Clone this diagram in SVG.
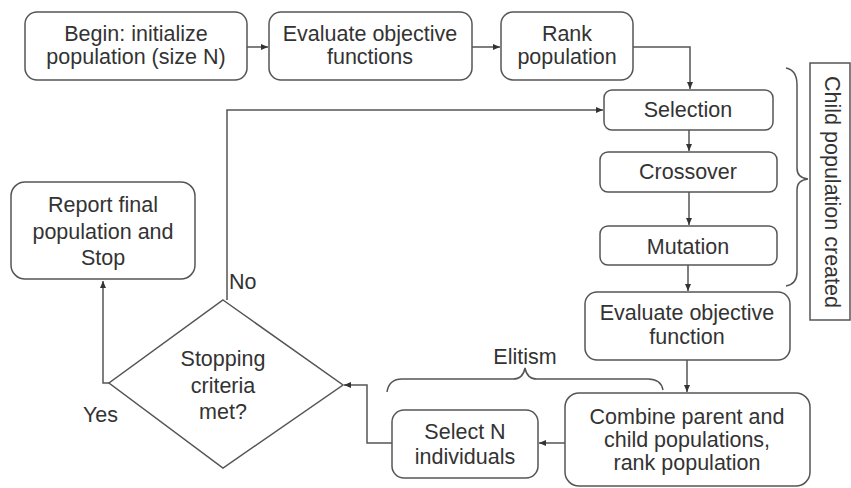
<svg xmlns="http://www.w3.org/2000/svg" width="851" height="488" viewBox="0 0 851 488">
<style>
.box{fill:#fff;stroke:#555;stroke-width:1.5}
.t{font-family:"Liberation Sans",Arial,sans-serif;font-size:21.5px;fill:#333;text-anchor:middle}
.l{font-family:"Liberation Sans",Arial,sans-serif;font-size:21.5px;fill:#333}
.c{fill:none;stroke:#555;stroke-width:1.5}
</style>
<defs>
<marker id="ah" markerWidth="8" markerHeight="8" refX="7" refY="4" orient="auto" markerUnits="userSpaceOnUse">
<path d="M0,1 L7,4 L0,7 Z" fill="#333"/>
</marker>
</defs>
<rect width="851" height="488" fill="#fff"/>
<g id="connectors">
<path class="c" d="M247,47 H268" marker-end="url(#ah)"/>
<path class="c" d="M472,47 H500" marker-end="url(#ah)"/>
<path class="c" d="M633,47 H690 V89" marker-end="url(#ah)"/>
<path class="c" d="M689,130 V151" marker-end="url(#ah)"/>
<path class="c" d="M689,192 V225" marker-end="url(#ah)"/>
<path class="c" d="M688,265 V291" marker-end="url(#ah)"/>
<path class="c" d="M687,360 V392" marker-end="url(#ah)"/>
<path class="c" d="M565,443 H539" marker-end="url(#ah)"/>
<path class="c" d="M392,443 H367 V385 H344" marker-end="url(#ah)"/>
<path class="c" d="M109,383 H103 V281" marker-end="url(#ah)"/>
<path class="c" d="M227,300 V110 H603" marker-end="url(#ah)"/>
</g>
<g id="braces">
<path class="c" d="M786,68 Q797,70 797,85 V168 Q797,178 808,179 Q797,180 797,190 V272 Q797,284 786,286"/>
<path class="c" d="M387,392 Q389,379 402,379 H513 Q523,379 525,368 Q527,379 537,379 H648 Q661,379 663,390"/>
</g>
<g id="begin">
<rect class="box" x="25" y="12" width="222" height="68" rx="12"/>
<text class="t" x="136" y="41">Begin: initialize</text>
<text class="t" x="136" y="64">population (size N)</text>
</g>
<g id="evaluate1">
<rect class="box" x="269" y="12" width="203" height="68" rx="12"/>
<text class="t" x="370" y="41">Evaluate objective</text>
<text class="t" x="370" y="64">functions</text>
</g>
<g id="rank">
<rect class="box" x="501" y="12" width="132" height="68" rx="12"/>
<text class="t" x="567" y="41">Rank</text>
<text class="t" x="567" y="64">population</text>
</g>
<g id="selection">
<rect class="box" x="604" y="90" width="169" height="40" rx="8"/>
<text class="t" x="688" y="117">Selection</text>
</g>
<g id="crossover">
<rect class="box" x="600" y="152" width="177" height="40" rx="8"/>
<text class="t" x="688" y="179">Crossover</text>
</g>
<g id="mutation">
<rect class="box" x="600" y="226" width="177" height="39" rx="8"/>
<text class="t" x="688" y="254">Mutation</text>
</g>
<g id="evaluate2">
<rect class="box" x="585" y="292" width="205" height="68" rx="12"/>
<text class="t" x="687" y="320">Evaluate objective</text>
<text class="t" x="687" y="344">function</text>
</g>
<g id="combine">
<rect class="box" x="565" y="393" width="245" height="93" rx="14"/>
<text class="t" x="687" y="424">Combine parent and</text>
<text class="t" x="687" y="447">child populations,</text>
<text class="t" x="687" y="470">rank population</text>
</g>
<g id="selectn">
<rect class="box" x="392" y="410" width="146" height="68" rx="12"/>
<text class="t" x="465" y="439">Select N</text>
<text class="t" x="465" y="464">individuals</text>
</g>
<g id="decision">
<polygon class="box" points="223,300 343,385 223,468 109,383"/>
<text class="t" x="223" y="366">Stopping</text>
<text class="t" x="223" y="393">criteria</text>
<text class="t" x="223" y="419">met?</text>
</g>
<g id="report">
<rect class="box" x="11" y="182" width="184" height="97" rx="14"/>
<text class="t" x="103" y="212">Report final</text>
<text class="t" x="103" y="239">population and</text>
<text class="t" x="103" y="265">Stop</text>
</g>
<g id="childbox">
<rect class="box" x="810" y="63" width="40" height="257"/>
<text class="t" transform="translate(832,192) rotate(90)" dominant-baseline="central">Child population created</text>
</g>
<g id="labels">
<text class="l" x="229" y="289">No</text>
<text class="l" x="83" y="422">Yes</text>
<text class="t" x="525" y="364">Elitism</text>
</g>
</svg>
